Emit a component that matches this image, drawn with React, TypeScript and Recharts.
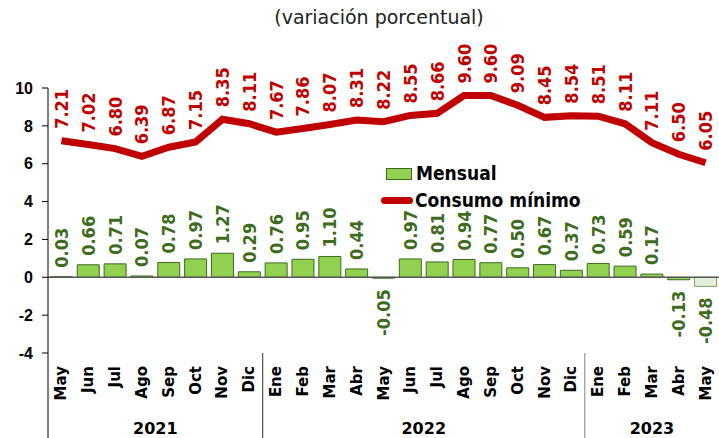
import React from 'react';
import { ComposedChart, Bar, Line, XAxis, YAxis, ReferenceLine, LabelList, Cell } from 'recharts';

const months = [
  'May', 'Jun', 'Jul', 'Ago', 'Sep', 'Oct', 'Nov', 'Dic',
  'Ene', 'Feb', 'Mar', 'Abr', 'May', 'Jun', 'Jul', 'Ago', 'Sep', 'Oct', 'Nov', 'Dic',
  'Ene', 'Feb', 'Mar', 'Abr', 'May',
];
const yearLabels = ['2021', '2022', '2023'];
const monthsPerYear = [8, 12, 5];

const mensual = [
  0.03, 0.66, 0.71, 0.07, 0.78, 0.97, 1.27, 0.29,
  0.76, 0.95, 1.1, 0.44, -0.05, 0.97, 0.81, 0.94, 0.77, 0.5, 0.67, 0.37,
  0.73, 0.59, 0.17, -0.13, -0.48,
];
const consumoMinimo = [
  7.21, 7.02, 6.8, 6.39, 6.87, 7.15, 8.35, 8.11,
  7.67, 7.86, 8.07, 8.31, 8.22, 8.55, 8.66, 9.6, 9.6, 9.09, 8.45, 8.54,
  8.51, 8.11, 7.11, 6.5, 6.05,
];
const yTicks = [-4, -2, 0, 2, 4, 6, 8, 10];

const data = months.map((m, i) => ({
  key: `${m}-${i}`,
  month: m,
  mensual: mensual[i],
  consumo: consumoMinimo[i],
}));

// first category index of each year
const yearStarts = monthsPerYear.map((_, i) => monthsPerYear.slice(0, i).reduce((a, b) => a + b, 0));

const RED = '#c00000';
const GREEN = '#92d050';
const GREEN_DARK = '#3f6b1f';
const LABEL_FONT = "'DejaVu Sans Condensed', 'DejaVu Sans', sans-serif";

function MonthTick(props: any) {
  const { x, y, index } = props;
  const band = (props.width || 671) / months.length;
  const h = props.height || 85;
  const g = yearStarts.indexOf(index);
  return (
    <g>
      <text
        x={x}
        y={y + 13}
        transform={`rotate(-90 ${x} ${y + 13})`}
        textAnchor="end"
        dominantBaseline="central"
        fontFamily="'DejaVu Sans', sans-serif"
        fontWeight="bold"
        fontSize={15}
        fill="#000"
      >
        {months[index]}
      </text>
      {g >= 0 && (
        <>
          <line
            x1={x - band / 2}
            x2={x - band / 2}
            y1={y}
            y2={y + h}
            stroke={g === 0 ? '#000' : g === 1 ? '#333' : '#808080'}
            strokeWidth={1}
          />
          <text
            x={x - band / 2 + (monthsPerYear[g] * band) / 2}
            y={y + 81}
            textAnchor="middle"
            fontFamily="'DejaVu Sans', sans-serif"
            fontWeight="bold"
            fontSize={16}
            fill="#000"
          >
            {yearLabels[g]}
          </text>
        </>
      )}
    </g>
  );
}

function LineLabel(props: any) {
  const { x, y, value } = props;
  const ly = y - 12;
  return (
    <text
      x={x}
      y={ly}
      transform={`rotate(-90 ${x} ${ly})`}
      textAnchor="start"
      dominantBaseline="central"
      fontFamily={LABEL_FONT}
      fontWeight="bold"
      fontSize={18}
      fill={RED}
    >
      {Number(value).toFixed(2)}
    </text>
  );
}

function BarLabel(props: any) {
  const { x, y, width, height, value } = props;
  const cx = x + width / 2;
  const top = Math.min(y, y + height);
  const bottom = Math.max(y, y + height);
  const neg = value < 0;
  const ly = neg ? bottom + 11 : top - 9;
  return (
    <text
      x={cx}
      y={ly}
      transform={`rotate(-90 ${cx} ${ly})`}
      textAnchor={neg ? 'end' : 'start'}
      dominantBaseline="central"
      fontFamily={LABEL_FONT}
      fontWeight="bold"
      fontSize={18}
      fill={GREEN_DARK}
    >
      {Number(value).toFixed(2)}
    </text>
  );
}

function LegendBox() {
  const txt: React.CSSProperties = {
    fontFamily: LABEL_FONT,
    fontWeight: 'bold',
    fontSize: 19,
    color: '#000',
    lineHeight: '27px',
  };
  return (
    <div style={{ position: 'absolute', left: 381, top: 160 }}>
      <div style={{ display: 'flex', alignItems: 'center' }}>
        <span style={{ display: 'inline-block', width: 24, height: 10, background: GREEN, border: '1px solid #3f6b1f', marginLeft: 5, marginRight: 4 }} />
        <span style={txt}>Mensual</span>
      </div>
      <div style={{ display: 'flex', alignItems: 'center' }}>
        <span style={{ display: 'inline-block', width: 32, height: 7, background: RED, borderRadius: 4, marginRight: 2 }} />
        <span style={txt}>Consumo mínimo</span>
      </div>
    </div>
  );
}

export default function App() {
  return (
    <div style={{ position: 'absolute', left: 0, top: 0, width: 719, height: 438, background: '#fff' }}>
      <div
        style={{
          position: 'absolute',
          top: 6,
          left: 270,
          width: 218,
          textAlign: 'center',
          fontFamily: "'DejaVu Sans', sans-serif",
          fontSize: 19,
          color: '#222',
          whiteSpace: 'nowrap',
        }}
      >
        (variación porcentual)
      </div>
      <ComposedChart
        width={719}
        height={438}
        data={data}
        margin={{ top: 88, right: 0, bottom: 0, left: 0 }}
        barCategoryGap="9%"
      >
        <XAxis
          dataKey="key"
          axisLine={false}
          tickLine={false}
          tickSize={0}
          tickMargin={0}
          height={85}
          interval={0}
          tick={<MonthTick />}
        />
        <YAxis
          domain={[-4, 10]}
          ticks={yTicks}
          width={48}
          axisLine={{ stroke: '#000', strokeWidth: 1 }}
          tickLine={{ stroke: '#000' }}
          tickSize={6}
          tickMargin={9}
          tick={{ fontFamily: "'Liberation Sans', Arial, sans-serif", fontWeight: 'bold', fontSize: 16, fill: '#000' }}
          interval={0}
        />
        <ReferenceLine y={0} stroke="#595959" strokeWidth={1.5} />
        <Bar dataKey="mensual" name="Mensual" fill={GREEN} stroke={GREEN_DARK} strokeWidth={1} isAnimationActive={false}>
          {data.map((d, i) => (
            <Cell
              key={d.key}
              fill={i === data.length - 1 ? '#e2f0d9' : GREEN}
              stroke={i === data.length - 1 ? '#7f9f65' : GREEN_DARK}
            />
          ))}
          <LabelList dataKey="mensual" content={<BarLabel />} />
        </Bar>
        <Line
          type="linear"
          dataKey="consumo"
          name="Consumo mínimo"
          stroke={RED}
          strokeWidth={7}
          dot={false}
          activeDot={false}
          isAnimationActive={false}
        >
          <LabelList dataKey="consumo" content={<LineLabel />} />
        </Line>
      </ComposedChart>
      <LegendBox />
    </div>
  );
}
